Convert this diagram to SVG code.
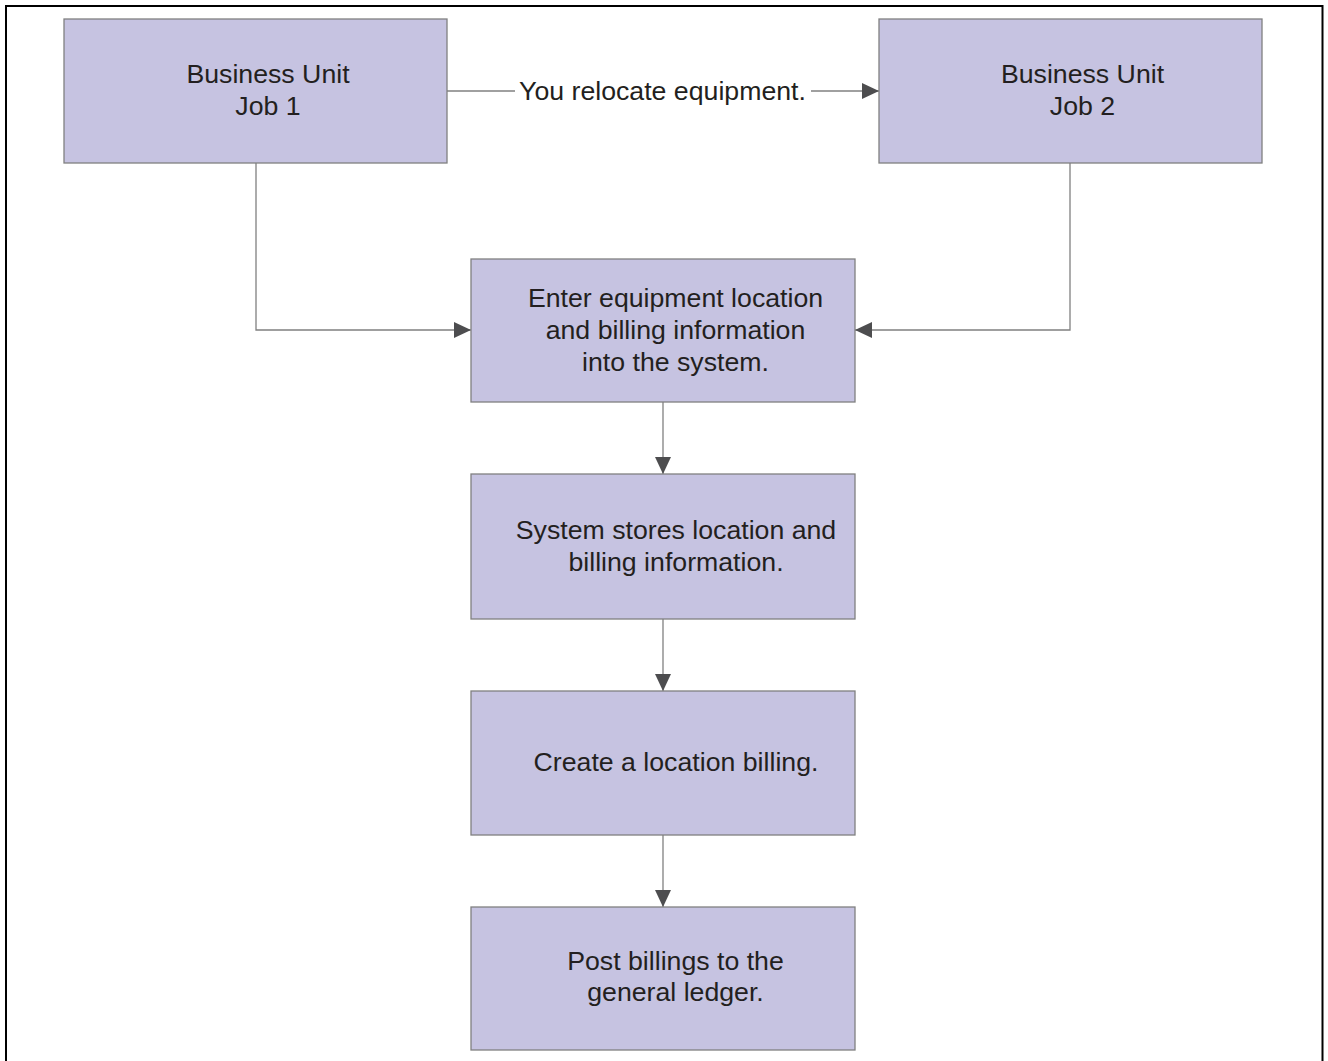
<svg xmlns="http://www.w3.org/2000/svg" width="1328" height="1061" viewBox="0 0 1328 1061">
  <style>
    .box { fill: #c6c3e1; stroke: #808080; stroke-width: 1.3; }
    .lbl { font-family: "Liberation Sans", Arial, sans-serif; font-size: 26.7px; fill: #231f20; text-anchor: middle; }
    .wire { fill: none; stroke: #808080; stroke-width: 1.3; }
  </style>
  <defs>
    <marker id="arrow" markerUnits="userSpaceOnUse" markerWidth="17" markerHeight="16" refX="17" refY="8" orient="auto">
      <path d="M0,0 L17,8 L0,16 Z" fill="#4d4d4f"/>
    </marker>
  </defs>

  <rect width="1328" height="1061" fill="#ffffff"/>
  <!-- outer frame, open at the bottom -->
  <path d="M6,1061 V6 H1322.5 V1061" fill="none" stroke="#000000" stroke-width="2"/>

  <g id="connectors">
    <line class="wire" x1="447" y1="91" x2="515" y2="91"/>
    <line class="wire" x1="811" y1="91" x2="879" y2="91" marker-end="url(#arrow)"/>
    <text class="lbl" x="662.5" y="100">You relocate equipment.</text>
    <polyline class="wire" points="256,163 256,330 471,330" marker-end="url(#arrow)"/>
    <polyline class="wire" points="1070,163 1070,330 855,330" marker-end="url(#arrow)"/>
    <line class="wire" x1="663" y1="402" x2="663" y2="474" marker-end="url(#arrow)"/>
    <line class="wire" x1="663" y1="619" x2="663" y2="691" marker-end="url(#arrow)"/>
    <line class="wire" x1="663" y1="835" x2="663" y2="907" marker-end="url(#arrow)"/>
  </g>

  <g id="bu-job1">
    <rect class="box" x="64" y="19" width="383" height="144"/>
    <text class="lbl" x="268" y="83">Business Unit</text>
    <text class="lbl" x="268" y="115">Job 1</text>
  </g>

  <g id="bu-job2">
    <rect class="box" x="879" y="19" width="383" height="144"/>
    <text class="lbl" x="1082.5" y="83">Business Unit</text>
    <text class="lbl" x="1082.5" y="115">Job 2</text>
  </g>

  <g id="enter-info">
    <rect class="box" x="471" y="259" width="384" height="143"/>
    <text class="lbl" x="675.5" y="307">Enter equipment location</text>
    <text class="lbl" x="675.5" y="339">and billing information</text>
    <text class="lbl" x="675.5" y="371">into the system.</text>
  </g>

  <g id="system-stores">
    <rect class="box" x="471" y="474" width="384" height="145"/>
    <text class="lbl" x="676" y="539">System stores location and</text>
    <text class="lbl" x="676" y="571">billing information.</text>
  </g>

  <g id="create-billing">
    <rect class="box" x="471" y="691" width="384" height="144"/>
    <text class="lbl" x="676" y="771">Create a location billing.</text>
  </g>

  <g id="post-billings">
    <rect class="box" x="471" y="907" width="384" height="143"/>
    <text class="lbl" x="675.5" y="970">Post billings to the</text>
    <text class="lbl" x="675.5" y="1001">general ledger.</text>
  </g>
</svg>
